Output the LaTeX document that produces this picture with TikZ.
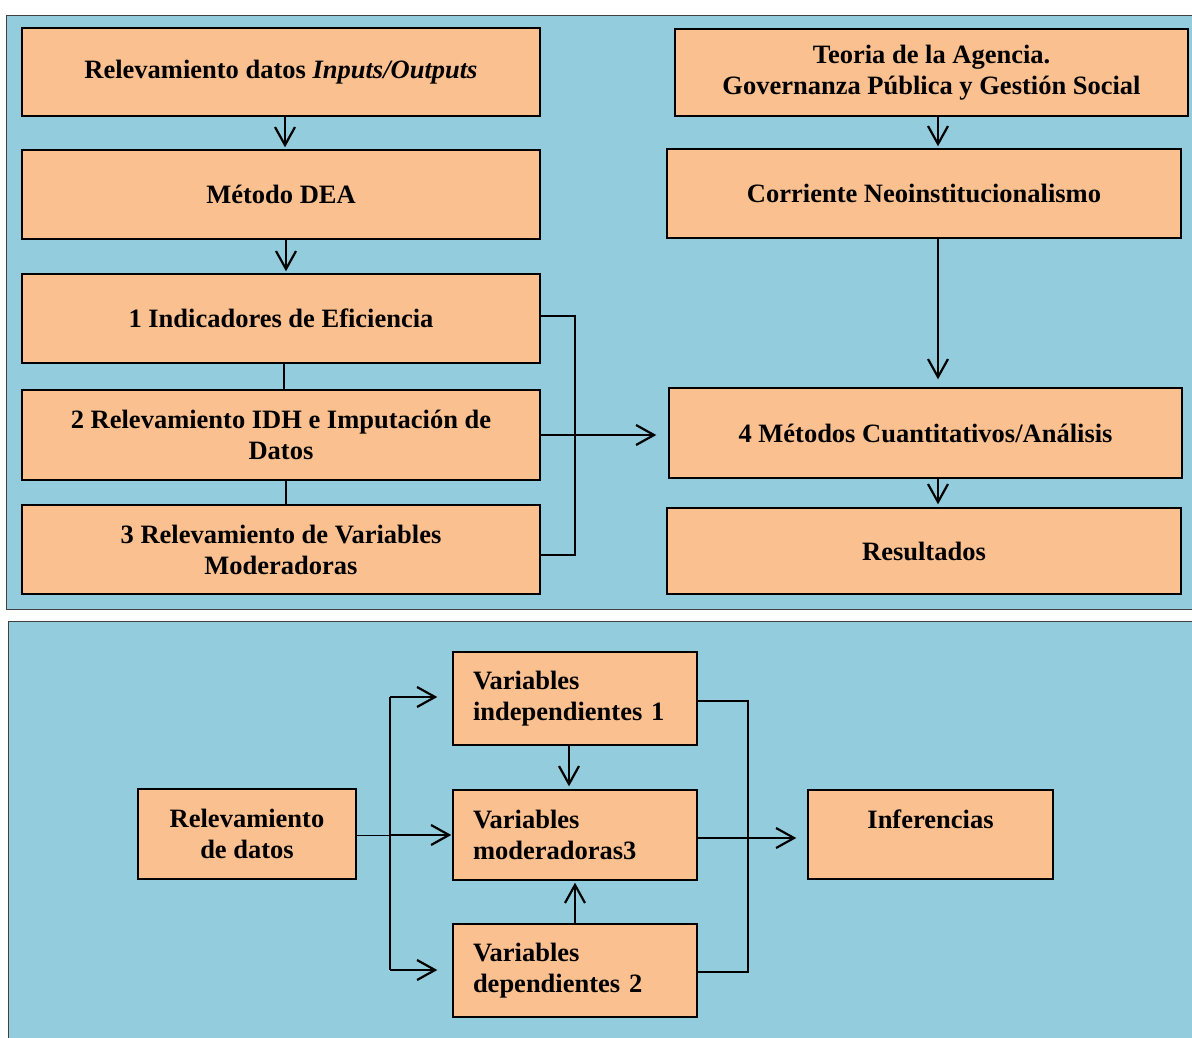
\documentclass[tikz,border=0pt]{standalone}
\usepackage{fontspec}
\setmainfont{Liberation Serif}
\usetikzlibrary{arrows.meta}
\definecolor{panelblue}{RGB}{147,204,221}
\definecolor{boxfill}{RGB}{250,192,144}
\tikzset{
  panel/.style={fill=panelblue, draw=black!75, line width=1pt},
  box/.style={draw=black, line width=1.4pt, fill=boxfill, inner sep=0pt, align=center,
    font=\bfseries\fontsize{26.5}{31}\selectfont},
  lbox/.style={box, align=left, text width=204pt},
  conn/.style={line width=2.2pt},
  arr/.style={conn, -{Straight Barb[length=18pt,width=20pt,line width=2.2pt]}}
}
\begin{document}
\begin{tikzpicture}[x=1pt,y=-1pt]
\clip (0,0) rectangle (1192,1037);
\fill[white] (0,0) rectangle (1192,1037);
% panels
\draw[panel] (6,15) rectangle (1210,609);
\draw[panel] (8,621) rectangle (1210,1050);
% top-left column
\node[box, minimum width=518pt, minimum height=88pt] (B1) at (281,72) {Relevamiento datos \textit{Inputs/Outputs}};
\node[box, minimum width=518pt, minimum height=89pt] (B2) at (281,194.5) {Método DEA};
\node[box, minimum width=518pt, minimum height=89pt] (B3) at (281,318.5) {1 Indicadores de Eficiencia};
\node[box, minimum width=518pt, minimum height=90pt] (B4) at (281,435) {2 Relevamiento IDH e Imputación de\\Datos};
\node[box, minimum width=518pt, minimum height=89pt] (B5) at (281,549.5) {3 Relevamiento de Variables\\Moderadoras};
% top-right column
\node[box, minimum width=513pt, minimum height=87pt] (R1) at (931.5,72.5) {Teoria de la Agencia.\\Governanza Pública y Gestión Social};
\node[box, minimum width=514pt, minimum height=89pt] (R2) at (924,193.5) {Corriente Neoinstitucionalismo};
\node[box, minimum width=513pt, minimum height=90pt] (R3) at (925.5,433) {4 Métodos Cuantitativos/Análisis};
\node[box, minimum width=514pt, minimum height=86pt] (R4) at (924,551) {Resultados};
% top connectors
\coordinate (ax) at (938,0);
\coordinate (bx) at (575,0);
\draw[arr, shorten >=2pt] ([xshift=4pt]B1.south) -- ([xshift=4pt]B2.north);
\draw[arr, shorten >=2pt] ([xshift=5pt]B2.south) -- ([xshift=5pt]B3.north);
\draw[conn] ([xshift=3pt]B3.south) -- ([xshift=3pt]B4.north);
\draw[conn] ([xshift=5pt]B4.south) -- ([xshift=5pt]B5.north);
\draw[conn] (B3.east |- 0,316) -- (bx |- 0,316) -- (bx |- 0,555) -- (B5.east |- 0,555);
\draw[arr, shorten >=12pt] (B4.east) -- (R3.west |- B4.east);
\draw[arr, shorten >=2pt] (R1.south -| ax) -- (R2.north -| ax);
\draw[arr, shorten >=8pt] (R2.south -| ax) -- (R3.north -| ax);
\draw[arr, shorten >=3pt] (R3.south -| ax) -- (R4.north -| ax);
% bottom panel
\node[box, minimum width=218pt, minimum height=90pt] (L) at (247,834) {Relevamiento\\de datos};
\node[lbox, minimum width=244pt, minimum height=93pt] (V1) at (575,698.5) {Variables\\independientes 1};
\node[lbox, minimum width=244pt, minimum height=90pt] (V3) at (575,835) {Variables\\moderadoras3};
\node[lbox, minimum width=244pt, minimum height=93pt] (V2) at (575,970.5) {Variables\\dependientes 2};
\node[box, minimum width=245pt, minimum height=89pt] (I) at (930.5,834.5) {Inferencias\\\mbox{}};
% bottom connectors
\coordinate (lx) at (390,0);
\coordinate (rx) at (748,0);
\draw[conn] (lx |- 0,697) -- (lx |- 0,970);
\draw[arr, shorten >=15pt] (lx |- 0,697) -- (V1.west |- 0,697);
\draw[arr, shorten >=15pt] (lx |- 0,970) -- (V2.west |- 0,970);
\draw[line width=1pt] (L.east |- 0,835) -- (lx |- 0,835);
\draw[arr, shorten >=1pt] (lx |- 0,835) -- (V3.west |- 0,835);
\draw[arr, shorten >=3pt] ([xshift=-6pt]V1.south) -- ([xshift=-6pt]V3.north);
\draw[arr, shorten >=2pt] (V2.north) -- (V3.south);
\draw[conn] (V1.east |- 0,701) -- (rx |- 0,701) -- (rx |- 0,972) -- (V2.east |- 0,972);
\draw[arr, shorten >=11pt] (V3.east |- 0,838) -- (I.west |- 0,838);
\end{tikzpicture}
\end{document}
